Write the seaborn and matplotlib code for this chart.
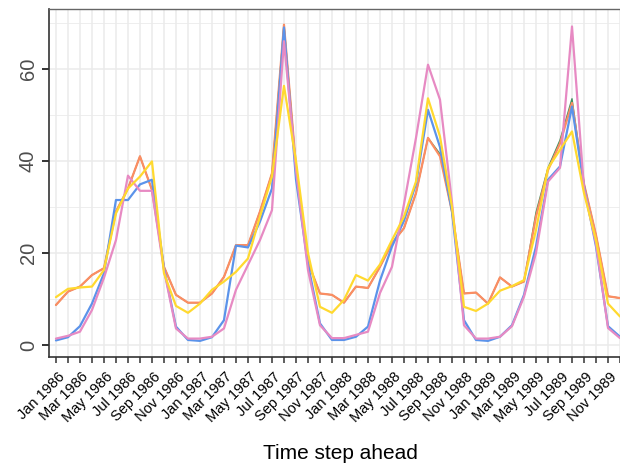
import numpy as np
import pandas as pd
import matplotlib
matplotlib.use("Agg")
import matplotlib.pyplot as plt
import matplotlib.transforms as mtransforms
import seaborn as sns

# Monthly forecasts, Jan 1986 - Dec 1989
months = pd.date_range("1986-01-01", periods=48, freq="MS")
month_labels = [m.strftime("%b %Y") for m in months]

series_names = ["Model E", "Model A", "Model B", "Model C", "Model D"]

model_e = [8.7, 11.6, 12.7, 15.2, 16.7, 29.0, 34.0, 41.0, 33.7, 17.0, 10.9, 9.2,
           9.2, 11.2, 14.8, 21.7, 21.7, 29.0, 37.3, 69.6, 38.8, 18.0, 11.2, 10.9,
           9.2, 12.7, 12.4, 17.0, 22.1, 25.4, 33.0, 45.0, 41.5, 29.0, 11.2, 11.4,
           9.0, 14.7, 12.7, 13.8, 28.8, 38.5, 44.5, 53.5, 35.0, 23.9, 10.6, 10.2]
model_a = [8.7, 11.6, 12.7, 15.2, 16.7, 29.0, 34.0, 41.0, 33.7, 17.0, 10.9, 9.2,
           9.2, 11.2, 14.8, 21.7, 21.7, 29.0, 37.3, 69.6, 38.8, 18.0, 11.2, 10.9,
           9.2, 12.7, 12.4, 17.0, 22.1, 25.4, 33.0, 45.0, 41.0, 29.0, 11.2, 11.4,
           9.0, 14.7, 12.7, 13.8, 27.9, 38.0, 43.8, 52.6, 35.0, 23.9, 10.6, 10.2]
model_b = [1.0, 1.7, 4.1, 9.0, 15.6, 31.5, 31.5, 34.9, 35.9, 16.7, 4.0, 1.1,
           0.9, 1.7, 5.4, 21.6, 21.2, 26.8, 34.0, 69.0, 36.0, 17.5, 4.7, 1.1,
           1.1, 1.8, 4.0, 14.0, 21.4, 27.0, 35.0, 51.1, 43.0, 29.0, 5.4, 1.1,
           0.9, 1.8, 4.3, 10.9, 21.4, 35.9, 38.8, 51.8, 34.5, 21.4, 4.1, 1.8]
model_c = [1.4, 2.0, 2.9, 7.6, 14.6, 22.8, 36.8, 33.5, 33.5, 16.3, 3.6, 1.4,
           1.4, 1.8, 3.6, 12.0, 17.4, 22.8, 29.3, 66.0, 38.0, 16.3, 4.3, 1.5,
           1.5, 2.2, 2.9, 11.3, 17.0, 30.6, 45.0, 60.9, 53.3, 31.0, 4.3, 1.4,
           1.4, 1.8, 4.1, 10.5, 20.0, 35.5, 38.5, 69.2, 34.0, 22.0, 3.7, 1.5]
model_d = [10.4, 12.2, 12.5, 12.7, 16.3, 28.6, 34.0, 36.6, 39.9, 15.6, 8.5, 7.0,
           9.0, 12.0, 13.8, 15.9, 18.8, 27.9, 36.6, 56.3, 40.0, 20.0, 8.3, 7.0,
           9.8, 15.2, 14.0, 17.5, 22.8, 27.9, 35.5, 53.6, 45.3, 30.0, 8.3, 7.4,
           9.0, 11.8, 12.8, 14.1, 25.0, 38.4, 42.4, 46.4, 33.0, 22.8, 9.0, 6.2]

series_colors = ["#3f8f5f", "#fc8d62", "#5b93ea", "#e78ac3", "#ffd92f"]
series_widths = [1.0, 1.6, 1.6, 1.6, 1.6]
y_ticks = [0, 20, 40, 60]

values = [model_e, model_a, model_b, model_c, model_d]
df = pd.DataFrame({
    "step": np.tile(np.arange(len(months)), len(series_names)),
    "value": np.concatenate(values),
    "model": np.repeat(series_names, len(months)),
})

sns.set_theme(style="white")
plt.rcParams["font.family"] = ["Liberation Sans", "DejaVu Sans"]

fig = plt.figure(figsize=(6.2, 4.68), dpi=100)
ax = fig.add_axes([49 / 620, 1 - 357 / 468, 1 - 49 / 620, (357 - 9) / 468])

for name, color, lw in zip(series_names, series_colors, series_widths):
    sns.lineplot(data=df[df["model"] == name], x="step", y="value",
                 color=color, linewidth=lw, legend=False, ax=ax,
                 sort=True, estimator=None)

ax.set_xlim(-0.58, 46.73)
ax.set_ylim(-2.6, 73.0)

# grid: every month vertically, every 10 horizontally (thinner minors)
ax.set_xticks(np.arange(len(months)))
ax.set_xticklabels([lab if i % 2 == 0 else "" for i, lab in enumerate(month_labels)],
                   rotation=45, ha="right", va="top", rotation_mode="anchor",
                   fontsize=10.5, color="black")
ax.set_yticks(y_ticks)
ax.set_yticks([10, 30, 50, 70], minor=True)
ax.set_yticklabels([str(v) for v in y_ticks], rotation=90, va="center",
                   fontsize=14.5, color="#4d4d4d")
ax.grid(True, which="major", axis="both", color="#ebebeb", linewidth=1.1)
ax.grid(True, which="minor", axis="y", color="#ebebeb", linewidth=0.6)
ax.set_axisbelow(True)

ax.tick_params(axis="x", which="major", length=4, width=1.1, color="#333333",
               pad=5, bottom=True)
ax.tick_params(axis="y", which="major", length=5, width=1.4, color="#333333",
               pad=3, left=True)
ax.tick_params(axis="y", which="minor", length=0)

offset = mtransforms.ScaledTranslation(1.5 / 100, 0, fig.dpi_scale_trans)
for lab in ax.get_xticklabels():
    lab.set_transform(lab.get_transform() + offset)

for side in ["left", "bottom"]:
    ax.spines[side].set_color("#333333")
    ax.spines[side].set_linewidth(1.2)
ax.spines["top"].set_color("#666666")
ax.spines["top"].set_linewidth(1.0)
ax.spines["right"].set_visible(False)

ax.set_xlabel("")
ax.set_ylabel("")
fig.text(340 / 620, 1 - 459 / 468, "Time step ahead", ha="center",
         va="baseline", fontsize=15, color="black")

fig.savefig("out.png", dpi=100)
